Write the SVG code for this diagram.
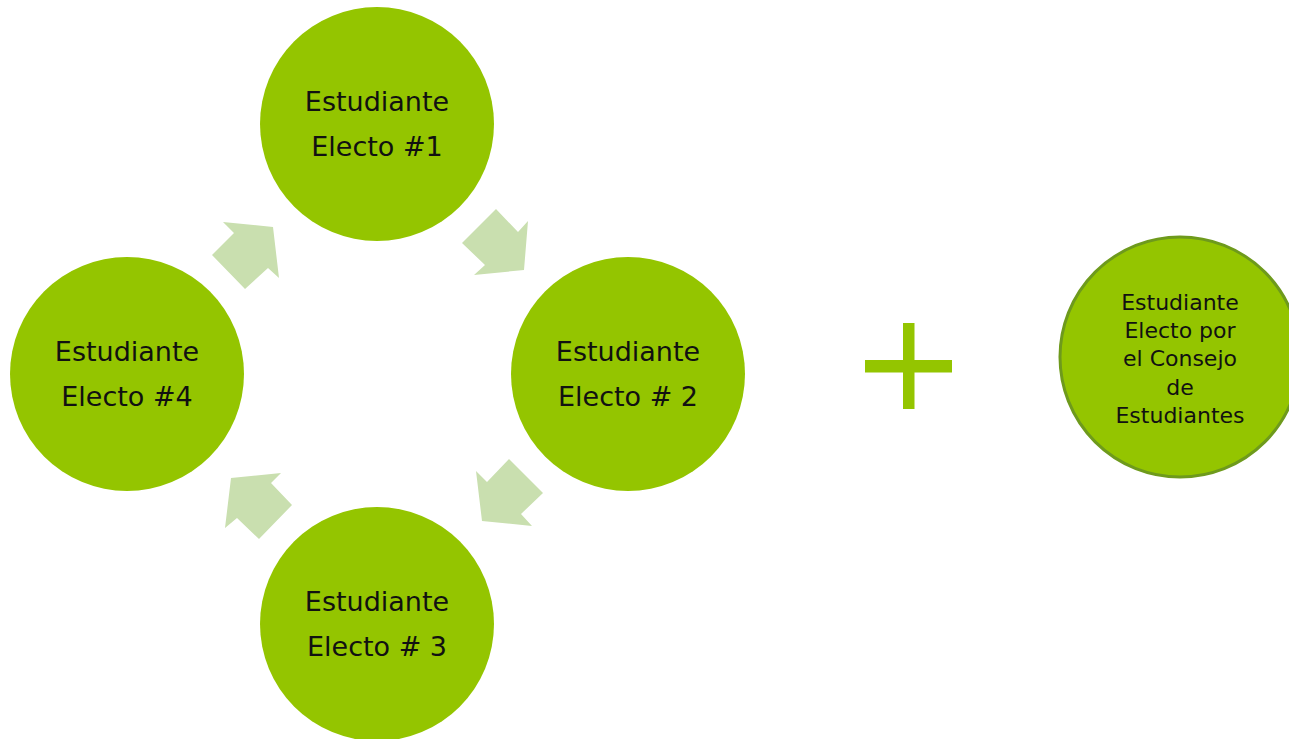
<svg xmlns="http://www.w3.org/2000/svg" width="1289" height="739" viewBox="0 0 1289 739">
<style>
.node{fill:#94C500;}
.big{font-family:"DejaVu Sans",sans-serif;font-size:27px;fill:#111;text-anchor:middle;}
.small{font-family:"DejaVu Sans",sans-serif;font-size:22px;fill:#111;text-anchor:middle;}
.arrow{fill:#C9DFAF;}
.plus{fill:#94C500;}
</style>
<rect width="1289" height="739" fill="#ffffff"/>
<g id="connectors">
<polygon class="arrow" points="212,255 234,233 223,222 273,227 279,278 268,268 245,289"/>
<polygon class="arrow" points="462,243 496,209 518,232 528,221 524,270 474,275 485,265"/>
<polygon class="arrow" points="476,471 487,482 509,459 543,493 521,514 532,526 482,521"/>
<polygon class="arrow" points="231,478 281,473 271,483 292,505 259,539 237,518 225,528"/>
</g>
<g id="node1">
<circle class="node" cx="377" cy="124" r="117"/>
<text class="big" x="377" y="111">Estudiante</text>
<text class="big" x="377" y="156">Electo #1</text>
</g>
<g id="node2">
<circle class="node" cx="628" cy="374" r="117"/>
<text class="big" x="628" y="361">Estudiante</text>
<text class="big" x="628" y="406">Electo # 2</text>
</g>
<g id="node3">
<circle class="node" cx="377" cy="624" r="117"/>
<text class="big" x="377" y="611">Estudiante</text>
<text class="big" x="377" y="656">Electo # 3</text>
</g>
<g id="node4">
<circle class="node" cx="127" cy="374" r="117"/>
<text class="big" x="127" y="361">Estudiante</text>
<text class="big" x="127" y="406">Electo #4</text>
</g>
<g id="plus">
<rect class="plus" x="903" y="323" width="11.5" height="86"/>
<rect class="plus" x="865" y="360" width="87" height="12.5"/>
</g>
<g id="node5">
<circle cx="1180" cy="357" r="120" fill="#94C500" stroke="#6E9A1C" stroke-width="3"/>
<text class="small" x="1180" y="310">Estudiante</text>
<text class="small" x="1180" y="338">Electo por</text>
<text class="small" x="1180" y="366">el Consejo</text>
<text class="small" x="1180" y="395">de</text>
<text class="small" x="1180" y="423">Estudiantes</text>
</g>
</svg>
